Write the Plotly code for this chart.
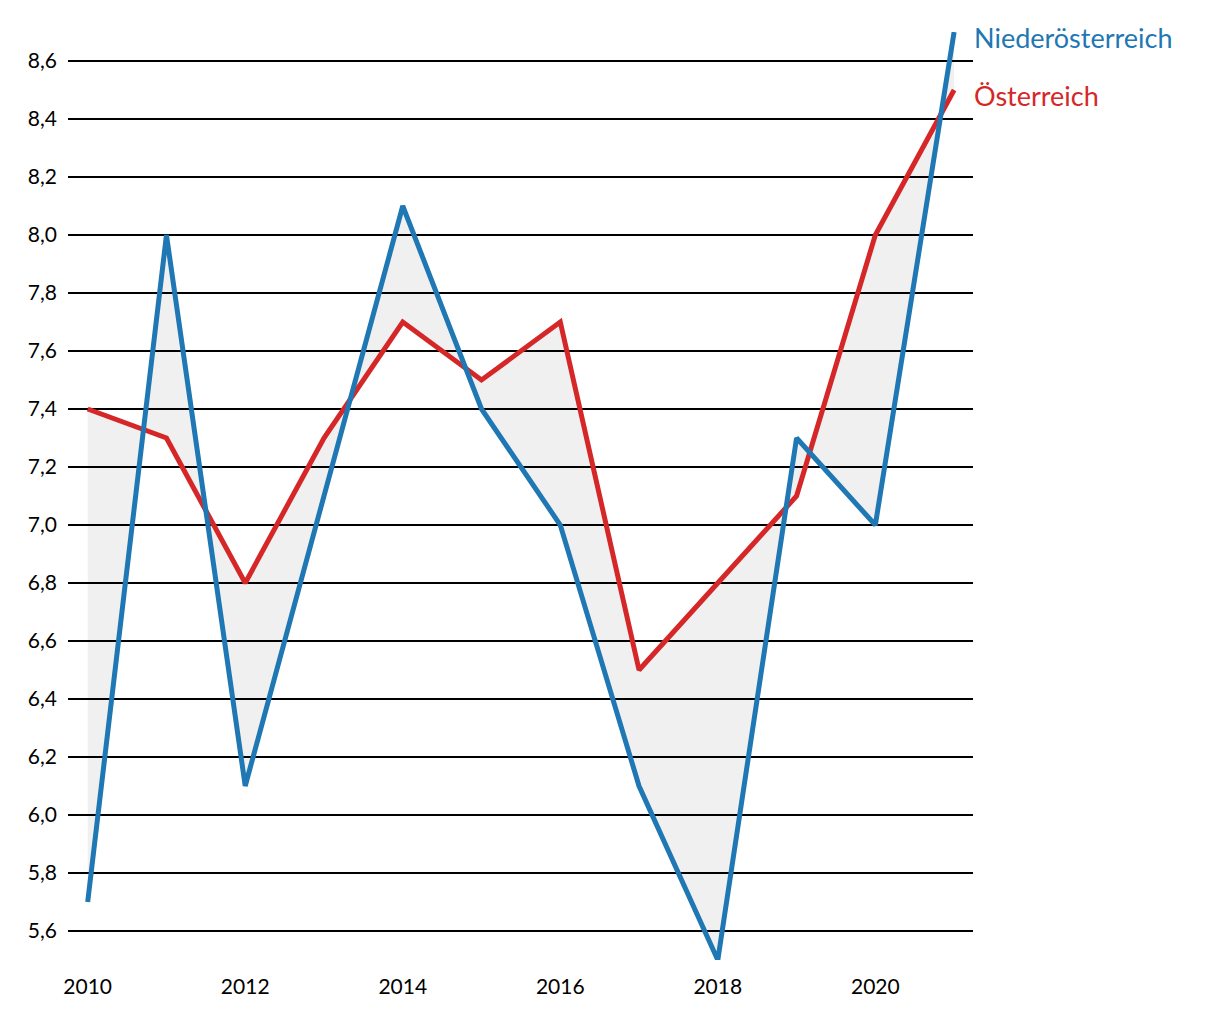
import plotly.graph_objects as go

years = list(range(2010, 2022))
noe = [5.7, 8.0, 6.1, 7.1, 8.1, 7.4, 7.0, 6.1, 5.5, 7.3, 7.0, 8.7]
oe = [7.4, 7.3, 6.8, 7.3, 7.7, 7.5, 7.7, 6.5, 6.8, 7.1, 8.0, 8.5]
y_ticks = [5.6, 5.8, 6.0, 6.2, 6.4, 6.6, 6.8, 7.0, 7.2, 7.4, 7.6, 7.8, 8.0, 8.2, 8.4, 8.6]
x_ticks = [2010, 2012, 2014, 2016, 2018, 2020]
names = ["Niederösterreich", "Österreich"]
blue = "#1f77b4"
red = "#d62728"
font = "Lato, 'Open Sans', sans-serif"

fig = go.Figure()
# fill between
fig.add_trace(go.Scatter(x=years, y=oe, mode="lines", line=dict(width=0), hoverinfo="skip", showlegend=False))
fig.add_trace(go.Scatter(x=years, y=noe, mode="lines", line=dict(width=0), fill="tonexty",
                         fillcolor="rgba(0,0,0,0.06)", hoverinfo="skip", showlegend=False))
fig.add_trace(go.Scatter(x=years, y=oe, mode="lines", name=names[1], line=dict(color=red, width=5), showlegend=False))
fig.add_trace(go.Scatter(x=years, y=noe, mode="lines", name=names[0], line=dict(color=blue, width=5), showlegend=False))

fig.add_annotation(x=years[-1], y=noe[-1], text=names[0], showarrow=False, xanchor="left", xshift=18,
                   yshift=-5, font=dict(color=blue, size=27, family=font))
fig.add_annotation(x=years[-1], y=oe[-1], text=names[1], showarrow=False, xanchor="left", xshift=18,
                   yshift=-5, font=dict(color=red, size=27, family=font))

fig.update_layout(
    width=1220, height=1020,
    margin=dict(l=60, r=255, t=24, b=68, autoexpand=False),
    plot_bgcolor="white", paper_bgcolor="white",
    font=dict(family=font, size=21, color="black"),
    separators=",.",
    xaxis=dict(range=[2009.75, 2021.24], tickvals=x_ticks, showgrid=False, zeroline=False,
               showline=False, ticks="", ticklabelstandoff=12, automargin=False),
    yaxis=dict(range=[5.5, 8.7], tickvals=y_ticks, tickformat=".1f", showgrid=True,
               gridcolor="black", gridwidth=2, zeroline=False, showline=False, ticks="",
               ticklabelstandoff=10, automargin=False),
)
fig.write_html("out.html")
